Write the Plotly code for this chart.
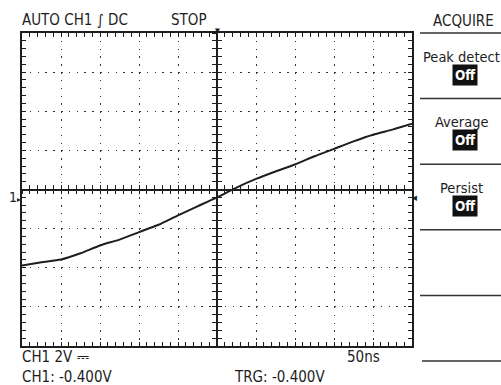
import plotly.graph_objects as go

time_ns = [-250, -225, -200, -175, -150, -125, -100, -75, -50, -25, 0,
           25, 50, 75, 100, 125, 150, 175, 200, 225, 250]
volts = [-3.88, -3.72, -3.58, -3.26, -2.86, -2.56, -2.18, -1.80, -1.32, -0.86, -0.40,
         0.10, 0.54, 0.92, 1.28, 1.70, 2.08, 2.46, 2.80, 3.06, 3.36]
time_per_div = 50      # ns
volts_per_div = 2      # V
h_divs = 10
v_divs = 8
trigger_level = -0.4
menu_title = "ACQUIRE"
menu_items = ["Peak detect", "Average", "Persist"]
menu_values = ["Off", "Off", "Off"]

W, H = 501, 385
L, R, T, B = 22, 89, 33, 39
PW, PH = W - L - R, H - T - B
FONT = "Liberation Sans Narrow, DejaVu Sans Condensed, Liberation Sans, sans-serif"
INK = "#1e1e1e"

def px(x, y):
    return (x - L) / PW, (H - B - y) / PH

xr = [-time_per_div * h_divs / 2, time_per_div * h_divs / 2]
yr = [-volts_per_div * v_divs / 2, volts_per_div * v_divs / 2]

fig = go.Figure()
fig.add_trace(go.Scatter(x=time_ns, y=volts, mode="lines",
                         line=dict(color=INK, width=2, shape="spline", smoothing=0.6),
                         hoverinfo="skip", showlegend=False))
# dummy traces to register centre axes
for xa, ya in [("x2", "y"), ("x3", "y"), ("x", "y2"), ("x", "y3")]:
    fig.add_trace(go.Scatter(x=[None], y=[None], xaxis=xa, yaxis=ya, showlegend=False))

dot_x = "1.5px,%.3fpx" % (PH / (v_divs * 5) - 1.5)
dot_y = "1.5px,%.3fpx" % (PW / (h_divs * 5) - 1.5)

common = dict(showticklabels=False, ticklen=4, tickcolor=INK, tickwidth=1.2,
              linecolor=INK, zeroline=False, fixedrange=True)
fig.update_layout(
    width=W, height=H, margin=dict(l=L, r=R, t=T, b=B),
    paper_bgcolor="white", plot_bgcolor="white", showlegend=False,
    xaxis=dict(range=xr, dtick=time_per_div, tick0=0, showline=True, linewidth=1.6,
               mirror="ticks", ticks="inside", showgrid=True, gridcolor="#333",
               gridwidth=1, griddash=dot_x,
               minor=dict(dtick=time_per_div / 5, ticks="inside", ticklen=4,
                          tickcolor=INK, showgrid=False),
               **common),
    yaxis=dict(range=yr, dtick=volts_per_div, tick0=0, showline=True, linewidth=1.6,
               mirror="ticks", ticks="inside", showgrid=True, gridcolor="#333",
               gridwidth=1, griddash=dot_y,
               minor=dict(dtick=volts_per_div / 5, ticks="inside", ticklen=4,
                          tickcolor=INK, showgrid=False),
               **common),
)
for name, tk in [("xaxis2", "outside"), ("xaxis3", "inside")]:
    fig.update_layout({name: dict(overlaying="x", matches="x", anchor="free", position=0.5,
                                  range=xr, showline=True, linewidth=1.6, showgrid=False,
                                  ticks=tk, dtick=time_per_div / 5, tick0=0, **common)})
for name, tk in [("yaxis2", "outside"), ("yaxis3", "inside")]:
    fig.update_layout({name: dict(overlaying="y", matches="y", anchor="free", position=0.5,
                                  range=yr, showline=True, linewidth=1.6, showgrid=False,
                                  ticks=tk, dtick=volts_per_div / 5, tick0=0, **common)})

ann = []
def text(t, x, y, size=15, xanchor="left", **kw):
    fx, fy = px(x, y)
    ann.append(dict(text=t, x=fx, y=fy, xref="paper", yref="paper", showarrow=False,
                    xanchor=xanchor, yanchor="middle",
                    font=dict(family=FONT, size=size, color=INK), **kw))

text("AUTO CH1 ∫ DC", 20, 20)
text("STOP", 169, 20)
text(menu_title, 463, 21, xanchor="center")
item_y = [57, 122, 188]
for lbl, val, yy in zip(menu_items, menu_values, item_y):
    text(lbl, 461, yy, xanchor="center", size=14.5)
    fx, fy = px(465, yy + 18)
    ann.append(dict(text="<b>" + val + "</b>", x=fx, y=fy, xref="paper", yref="paper",
                    showarrow=False, xanchor="center", yanchor="middle",
                    bgcolor="#111", borderpad=2,
                    font=dict(family=FONT, size=13.5, color="white")))
text("CH1 2V ⎓", 20, 357)
text("50ns", 345, 357)
text("CH1: -0.400V", 20, 377)
text("TRG: -0.400V", 232, 377)

# channel marker (left), trigger level marker (right), trigger position (top)
ann.append(dict(text="1<span style='font-size:8px'>▸</span>", x=0, y=trigger_level,
                xref="paper", yref="y", showarrow=False, xshift=1,
                xanchor="right", yanchor="middle", font=dict(family=FONT, size=14, color=INK)))
ann.append(dict(text="◂", x=1, y=trigger_level, xref="paper", yref="y", showarrow=False,
                xanchor="left", yanchor="middle", xshift=-2, font=dict(family=FONT, size=11, color=INK)))
ann.append(dict(text="▼", x=0, y=1, xref="x", yref="paper", showarrow=False,
                xanchor="center", yanchor="bottom", yshift=-4, font=dict(family=FONT, size=7, color=INK)))
fig.update_layout(annotations=ann)

# menu separators
shapes = []
slot = 65.6
for i in range(6):
    yy = 33 + i * slot
    x0 = 420 if i < 5 else 422
    fx0, fy = px(x0, yy)
    fx1, _ = px(W, yy)
    shapes.append(dict(type="line", xref="paper", yref="paper", x0=fx0, x1=fx1, y0=fy, y1=fy,
                       line=dict(color="#333", width=1.5)))
fig.update_layout(shapes=shapes)

fig.write_html("out.html", config={"displayModeBar": False},
               post_script="document.body.style.margin='0';document.body.style.overflow='hidden';")
